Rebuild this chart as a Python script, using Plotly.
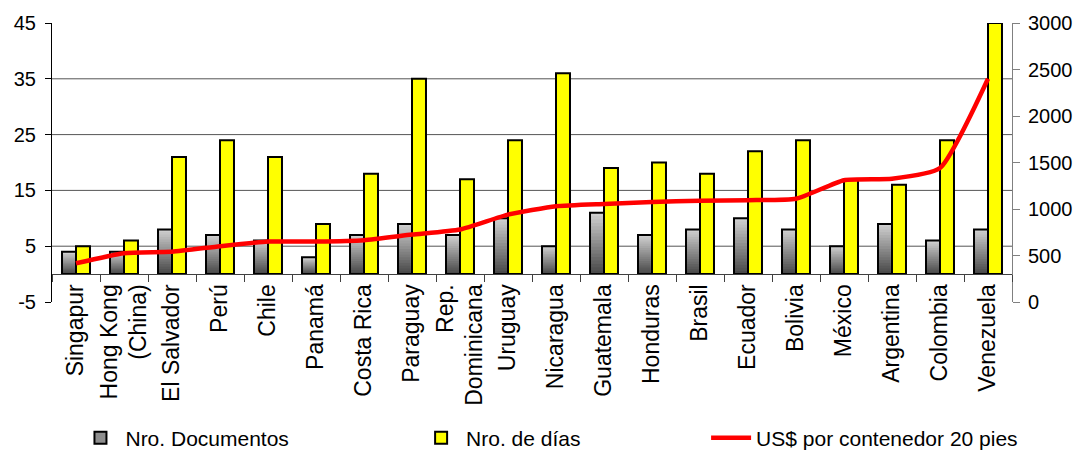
import plotly.graph_objects as go

# Countries, ordered by export cost
paises = ["Singapur", "Hong Kong<br>(China)", "El Salvador", "Perú", "Chile", "Panamá",
          "Costa Rica", "Paraguay", "Rep.<br>Dominicana", "Uruguay", "Nicaragua",
          "Guatemala", "Honduras", "Brasil", "Ecuador", "Bolivia", "México",
          "Argentina", "Colombia", "Venezuela"]

# Number of documents required
documentos = [4, 4, 8, 7, 6, 3, 7, 9, 7, 10, 5, 11, 7, 8, 10, 8, 5, 9, 6, 8]

# Number of days
dias = [5, 6, 21, 24, 21, 9, 18, 35, 17, 24, 36, 19, 20, 18, 22, 24, 17, 16, 24, 45]

# Cost in US$ per 20-foot container
costo = [416, 525, 540, 600, 650, 650, 665, 725, 780, 940, 1030, 1055, 1075, 1090,
         1095, 1110, 1310, 1325, 1440, 2400]

left_ticks = [-5, 5, 15, 25, 35, 45]
right_ticks = [0, 500, 1000, 1500, 2000, 2500, 3000]

FONT = "Liberation Sans, Arial, sans-serif"
FS = 20

fig = go.Figure()

# Gray bars with a vertical gradient: each bar is built from overlapping layers
# sharing one offset group; each layer runs from its base up to the bar top,
# shading from dark at the bottom to light at the top.
N_SLICES = 18
dark = (70, 70, 70)
light = (210, 210, 210)
for k in range(N_SLICES):
    t = (k + 0.5) / N_SLICES
    rgb = tuple(round(dark[i] + (light[i] - dark[i]) * t) for i in range(3))
    fig.add_trace(go.Bar(
        x=paises,
        y=[v * (N_SLICES - k) / N_SLICES for v in documentos],
        base=[v * k / N_SLICES for v in documentos],
        offsetgroup="doc",
        marker=dict(color="rgb(%d,%d,%d)" % rgb, line=dict(width=0)),
        showlegend=False,
        hoverinfo="skip",
    ))

# Outline of the document bars
fig.add_trace(go.Bar(
    x=paises, y=documentos, offsetgroup="doc",
    marker=dict(color="rgba(0,0,0,0)", line=dict(color="black", width=2)),
    showlegend=False, name="Nro. Documentos",
))

# Legend entry for the document bars
fig.add_trace(go.Bar(
    x=[paises[0]], y=[None], offsetgroup="doc",
    marker=dict(color="#8e8e8e", line=dict(color="black", width=2)),
    name="Nro. Documentos", legend="legend",
))

fig.add_trace(go.Bar(
    x=paises, y=dias, offsetgroup="dias",
    marker=dict(color="#ffff00", line=dict(color="black", width=2)),
    name="Nro. de días", legend="legend2",
))

fig.add_trace(go.Scatter(
    x=paises, y=costo, yaxis="y2", mode="lines",
    line=dict(color="#ff0000", width=4.5, shape="spline", smoothing=0.5),
    name="US$ por contenedor 20 pies", legend="legend3",
))

LFS = 21
legend_common = dict(orientation="h", yref="container", xref="container",
                     yanchor="middle", y=0.031, xanchor="left",
                     font=dict(family=FONT, size=LFS, color="black"),
                     bgcolor="rgba(0,0,0,0)", itemwidth=40)

fig.update_layout(
    width=1078, height=452,
    margin=dict(l=52, r=66, t=23, b=150, autoexpand=False),
    paper_bgcolor="white", plot_bgcolor="white",
    font=dict(family=FONT, size=FS, color="black"),
    barmode="group", bargap=0.417, bargroupgap=0,
    legend=dict(legend_common, x=0.070),
    legend2=dict(legend_common, x=0.386),
    legend3=dict(legend_common, x=0.655),
    xaxis=dict(
        anchor="free", position=0.1,
        showline=True, linecolor="#404040", linewidth=1,
        ticks="outside", tickson="boundaries", ticklen=7, tickcolor="#404040",
        tickangle=-90, tickfont=dict(family=FONT, size=23),
        showgrid=False, fixedrange=True,
    ),
    yaxis=dict(
        range=[-5, 45], tickvals=left_ticks, ticktext=[str(v) for v in left_ticks],
        showline=True, linecolor="black", linewidth=1,
        ticks="outside", ticklen=6, tickcolor="black", ticklabelstandoff=5,
        showgrid=False, zeroline=False,
        tickfont=dict(family=FONT, size=FS),
    ),
    yaxis2=dict(
        range=[0, 3000], tickvals=right_ticks, overlaying="y", side="right",
        showline=True, linecolor="#808080", linewidth=1,
        ticks="outside", ticklen=7, tickcolor="#808080", ticklabelstandoff=4,
        showgrid=False, zeroline=False,
        tickfont=dict(family=FONT, size=FS),
    ),
)

# Horizontal grid lines at the inner left-axis ticks
for v in left_ticks[1:-1]:
    fig.add_shape(type="line", xref="paper", x0=0, x1=1, yref="y", y0=v, y1=v,
                  line=dict(color="#555555", width=1), layer="below")

fig.write_html("out.html")
